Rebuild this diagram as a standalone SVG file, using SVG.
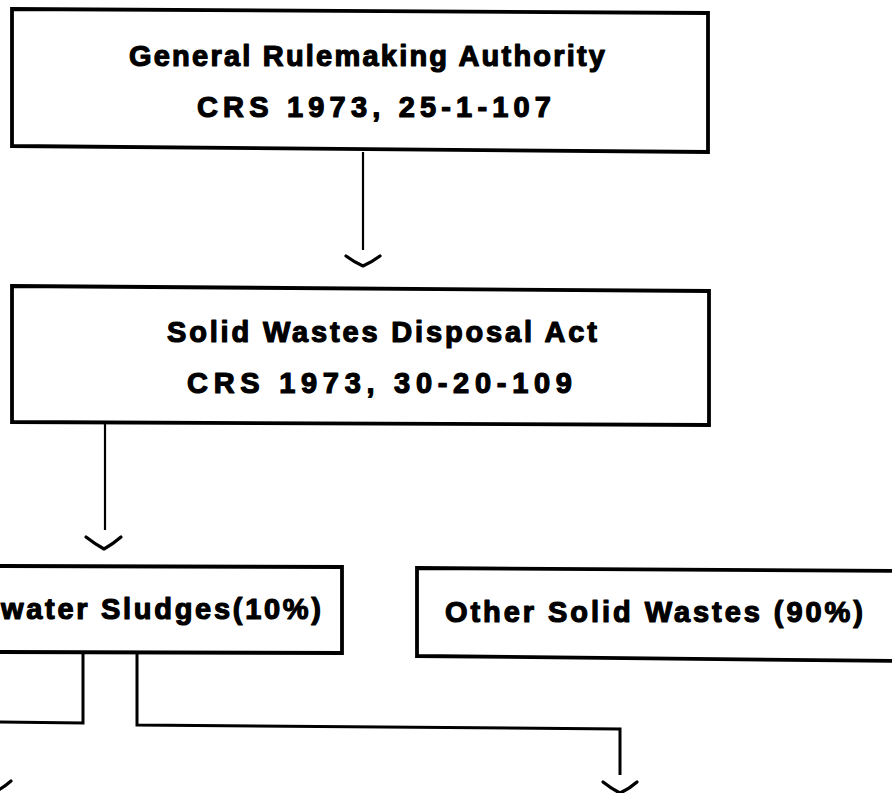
<svg xmlns="http://www.w3.org/2000/svg" width="892" height="793" viewBox="0 0 892 793">
<style>
.box{fill:#fff;stroke:#000;stroke-width:3.8;stroke-linejoin:miter}
.lbl{font-family:"Liberation Sans",Arial,sans-serif;font-weight:bold;font-size:29px;fill:#000;stroke:#000;stroke-width:1.2;stroke-linejoin:round}
.ln{fill:none;stroke:#000;stroke-width:3;stroke-linejoin:miter}
.thin{fill:none;stroke:#000;stroke-width:2.2}
.chev{fill:none;stroke:#000;stroke-width:3.2;stroke-linecap:round;stroke-linejoin:round}
</style>
<rect width="892" height="793" fill="#fff"/>
<g id="connectors">
<line class="thin" x1="363" y1="152" x2="363" y2="250"/>
<path class="chev" d="M346,256 Q354,262 363,266 Q372,262 380,256"/>
<line class="thin" x1="105" y1="423" x2="105" y2="530"/>
<path class="chev" d="M86,537 Q95,544 104,549 Q113,544 121,537"/>
<path class="ln" d="M83,653 L83,723 L-5,722"/>
<path class="ln" d="M137,653 L137,725 L620,729 L620,775"/>
<path class="chev" d="M603,782 Q612,789 620,793 Q629,789 637,782"/>
<path class="chev" d="M-22,781 Q-13,788 -5,792 Q3,788 11,781"/>
</g>
<g id="node-general-rulemaking">
<polygon class="box" points="12,9 708,13 708,152 12,146"/>
<text class="lbl" x="129" y="66" textLength="476" lengthAdjust="spacing">General Rulemaking Authority</text>
<text class="lbl" x="197" y="117" textLength="354" lengthAdjust="spacing">CRS 1973, 25-1-107</text>
</g>
<g id="node-solid-wastes-act">
<polygon class="box" points="12,286 709,291 709,425 12,422"/>
<text class="lbl" x="167" y="342" textLength="430" lengthAdjust="spacing">Solid Wastes Disposal Act</text>
<text class="lbl" x="187" y="393" textLength="385" lengthAdjust="spacing">CRS 1973, 30-20-109</text>
</g>
<g id="node-sludges">
<polygon class="box" points="-5,566 342,567 342,653 -5,652"/>
<text class="lbl" x="1" y="619" textLength="320" lengthAdjust="spacing">water Sludges(10%)</text>
</g>
<g id="node-other-solid-wastes">
<polygon class="box" points="417,568 900,571 900,661 417,656"/>
<text class="lbl" x="445" y="622" textLength="418" lengthAdjust="spacing">Other Solid Wastes (90%)</text>
</g>
</svg>
